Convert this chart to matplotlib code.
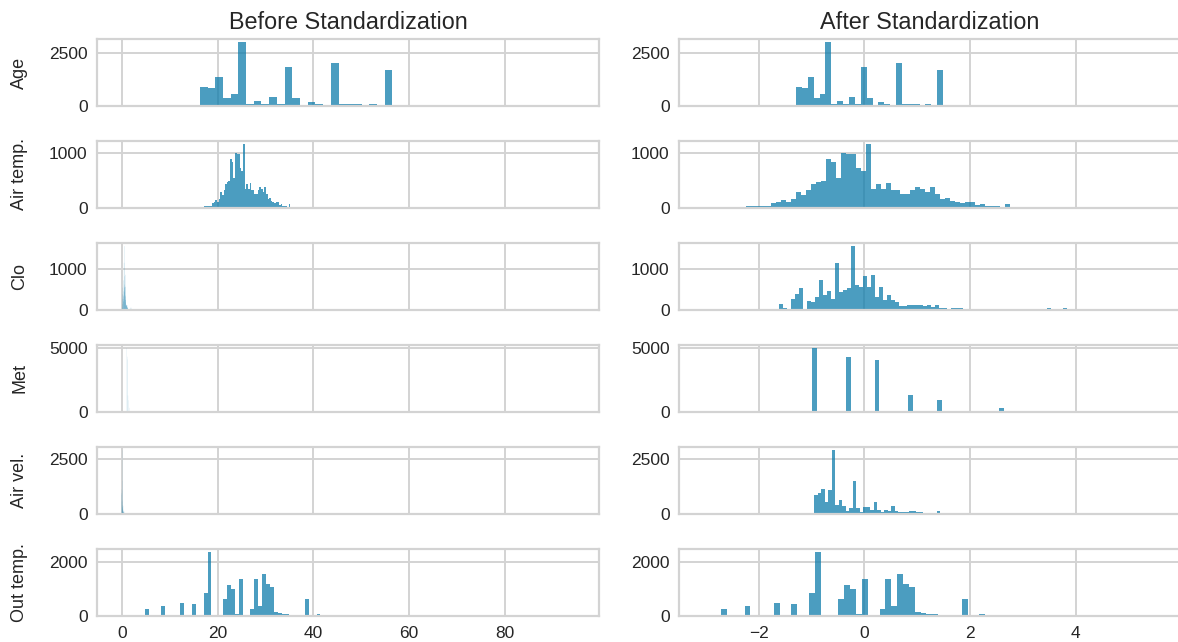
import numpy as np
import matplotlib
matplotlib.use('Agg')
import matplotlib.pyplot as plt
from matplotlib.ticker import MaxNLocator

plt.rcParams['font.family'] = ['Liberation Sans', 'DejaVu Sans']

# variables (one row each)
names = ['Age', 'Air temp.', 'Clo', 'Met', 'Air vel.', 'Out temp.']

# histogram counts per bin (same bins before / after standardization)
age_counts = [20, 900, 833, 1367, 367, 583, 3033, 100, 233, 100,
              433, 100, 1833, 367, 67, 167, 100, 10, 2033, 100,
              100, 100, 5, 100, 5, 1700, 10, 10, 5, 10,
              5, 60, 5, 5, 40, 0, 5, 0, 0, 0,
              40, 0, 0, 0, 0, 0, 40]
airtemp_counts = [5, 5, 30, 30, 30, 45, 45, 95, 110, 150,
                  110, 170, 280, 240, 320, 430, 470, 490, 880, 835,
                  540, 990, 975, 975, 720, 660, 1150, 350, 440, 340,
                  450, 320, 330, 250, 250, 320, 380, 340, 290, 370,
                  250, 160, 180, 130, 100, 85, 100, 100, 50, 65,
                  40, 40, 40, 5, 65, 5, 5, 5]
clo_counts = [5, 5, 5, 10, 140, 60, 10, 270, 380, 540,
              30, 215, 200, 325, 715, 350, 450, 265, 1140, 430,
              475, 530, 1540, 615, 560, 815, 560, 850, 325, 560,
              240, 350, 250, 185, 100, 100, 125, 110, 110, 125,
              100, 125, 75, 115, 60, 60, 5, 55, 55, 55,
              3, 3, 3, 3, 3, 3, 3, 3, 3, 3,
              3, 3, 3, 3, 3, 3, 3, 3, 3, 3,
              3, 55, 5, 5, 5, 55, 5, 5, 5, 5,
              5, 5, 5, 5, 5, 5]
met_counts = [20, 0, 0, 0, 0, 0, 0, 20, 0, 0,
              0, 0, 0, 5020, 0, 0, 0, 0, 0, 0,
              4350, 0, 0, 0, 0, 0, 4130, 0, 0, 0,
              0, 0, 0, 1300, 0, 0, 0, 0, 0, 925,
              0, 0, 0, 0, 0, 20, 0, 0, 0, 0,
              0, 0, 330, 0, 0, 0, 0, 0, 20, 0,
              0, 0, 0, 0, 0, 0, 0, 0, 0, 0,
              0, 20]
airvel_counts = [880, 960, 1115, 565, 1070, 2890, 410, 645, 375, 125,
                 250, 1510, 250, 95, 315, 315, 190, 565, 190, 95,
                 190, 125, 375, 125, 80, 80, 80, 125, 125, 80,
                 80, 30, 30, 30, 30, 125, 30, 30, 30, 30,
                 30, 60, 30, 30, 30, 30, 30, 60, 30, 30,
                 30, 30, 30, 30, 40, 30, 30, 30, 30, 40,
                 30, 30, 30, 40, 30, 30, 40, 30, 30, 30,
                 30, 30, 30, 30, 30, 30, 30, 30, 30, 30,
                 30, 30, 30]
outtemp_counts = [258, 0, 0, 0, 361, 0, 0, 0, 0, 464,
                  0, 0, 426, 0, 0, 839, 2361, 0, 0, 0,
                  619, 1135, 993, 65, 1355, 0, 0, 258, 1355, 361,
                  1548, 1187, 1084, 155, 116, 65, 65, 0, 0, 0,
                  0, 619, 0, 0, 65]

counts = [age_counts, airtemp_counts, clo_counts, met_counts,
          airvel_counts, outtemp_counts]

# first bin edge and bin width, standardized units
z_start = [-1.403, -2.425, -1.909, -2.16, -0.945, -2.71]
z_width = [0.1113, 0.0942, 0.0756, 0.0905, 0.0662, 0.111]

# mean and std of the raw variables
means = [34.96, 25.24, 0.65, 1.16, 0.20, 24.74]
stds = [14.45, 3.606, 0.34, 0.167, 0.21, 7.32]

bar_color = (0.055, 0.486, 0.671)

W, H = 1178, 642
fig = plt.figure(figsize=(W / 100, H / 100), dpi=100)

ax_w = 501.7
col_x = [97.3, 679.3]
row_top = [39 + 102 * i for i in range(6)]
ax_h = 67

axes = np.empty((6, 2), dtype=object)
for i in range(6):
    for j in range(2):
        rect = [col_x[j] / W, 1 - (row_top[i] + ax_h) / H, ax_w / W, ax_h / H]
        kw = {}
        if i > 0:
            kw['sharex'] = axes[0, j]
        if j > 0:
            kw['sharey'] = axes[i, 0]
        axes[i, j] = fig.add_axes(rect, **kw)

xlims = [(-5.1, 99.6), (-3.5, 5.99)]

for i in range(6):
    c = np.array(counts[i], dtype=float)
    z_edges = z_start[i] + z_width[i] * np.arange(len(c) + 1)
    raw_edges = means[i] + stds[i] * z_edges
    for j, edges in enumerate([raw_edges, z_edges]):
        ax = axes[i, j]
        ax.set_facecolor('white')
        ax.set_axisbelow(True)
        ax.grid(True, color='#d3d3d3', linewidth=1.4)
        for sp in ax.spines.values():
            sp.set_color('#d3d3d3')
            sp.set_linewidth(1.6)
        # bins well below a pixel wide are drawn unsnapped (they fade out)
        px = (edges[1] - edges[0]) / (xlims[j][1] - xlims[j][0]) * ax_w
        ax.bar(edges[:-1], c, width=np.diff(edges), align='edge',
               color=bar_color, alpha=0.75, linewidth=0, snap=px > 0.5)
        ax.tick_params(length=0, labelsize=12.5, colors='#262626', pad=7)
        ax.yaxis.set_major_locator(MaxNLocator(nbins=1, steps=[1, 2, 2.5, 5, 10]))
        if i < 5:
            ax.tick_params(labelbottom=False)
    axes[i, 0].set_ylabel(names[i], fontsize=13, color='#262626', labelpad=15)

axes[0, 0].set_xlim(*xlims[0])
axes[0, 1].set_xlim(*xlims[1])
for i in range(6):
    axes[i, 0].set_ylim(0, max(counts[i]) * 1.05)

axes[0, 0].set_title('Before Standardization', fontsize=16.8, color='#262626', pad=7)
axes[0, 1].set_title('After Standardization', fontsize=16.8, color='#262626', pad=7)

fig.savefig('out.png', dpi=100)
